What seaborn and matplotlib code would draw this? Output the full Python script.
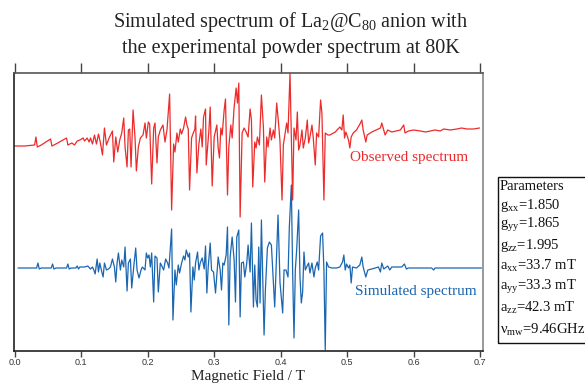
import numpy as np
import pandas as pd
import matplotlib
matplotlib.use("Agg")
import matplotlib.pyplot as plt
import matplotlib.patches as patches
import seaborn as sns

# observed spectrum (field in T, intensity in plot units, stacked above the simulated one)
obs_field = [0.000, 0.015, 0.030, 0.032, 0.034, 0.040, 0.054, 0.056, 0.062, 0.078, 0.080, 0.086, 0.090, 0.094,
             0.098, 0.103, 0.105, 0.109, 0.112, 0.114, 0.117, 0.120, 0.123, 0.126, 0.129, 0.132, 0.135, 0.138,
             0.142, 0.147, 0.149, 0.152, 0.155, 0.158, 0.161, 0.164, 0.166, 0.169, 0.171, 0.173, 0.175, 0.178,
             0.181, 0.183, 0.186, 0.189, 0.193, 0.196, 0.198, 0.201, 0.203, 0.206, 0.209, 0.211, 0.214, 0.216,
             0.219, 0.223, 0.226, 0.229, 0.233, 0.236, 0.239, 0.241, 0.244, 0.246, 0.249, 0.251, 0.254, 0.257,
             0.259, 0.261, 0.263, 0.266, 0.268, 0.271, 0.272, 0.274, 0.277, 0.280, 0.282, 0.284, 0.287, 0.288,
             0.292, 0.294, 0.297, 0.300,
             0.304, 0.306, 0.308, 0.310, 0.312, 0.315, 0.317, 0.320, 0.322, 0.325, 0.327, 0.330, 0.333, 0.335,
             0.337, 0.339, 0.342, 0.345, 0.348, 0.351, 0.354, 0.356, 0.358, 0.361, 0.363, 0.365, 0.368, 0.371,
             0.374, 0.376, 0.379, 0.381, 0.384, 0.386, 0.389, 0.391, 0.394, 0.397, 0.399, 0.402, 0.404, 0.407,
             0.409, 0.411, 0.414, 0.416, 0.418, 0.420, 0.423, 0.425, 0.427, 0.429, 0.432, 0.434, 0.437, 0.440,
             0.442, 0.444, 0.447, 0.449, 0.452, 0.454, 0.457, 0.460, 0.462, 0.465, 0.467, 0.471,
             0.474, 0.482, 0.489, 0.492, 0.494, 0.496, 0.498, 0.502, 0.504, 0.506, 0.509, 0.514, 0.520, 0.522,
             0.524, 0.528, 0.530, 0.537, 0.550, 0.552, 0.555, 0.557, 0.561, 0.567, 0.580, 0.585, 0.587, 0.592,
             0.600, 0.610, 0.618, 0.625, 0.632, 0.640, 0.645, 0.655, 0.665, 0.672, 0.680, 0.690, 0.699]
obs_signal = [1.22, 1.22, 1.23, 1.31, 1.21, 1.23, 1.29, 1.22, 1.24, 1.30, 1.23, 1.25, 1.23, 1.27,
              1.28, 1.30, 1.27, 1.30, 1.26, 1.30, 1.24, 1.33, 1.24, 1.34, 1.25, 1.13, 1.40, 1.23,
              1.30, 1.37, 1.06, 1.31, 1.16, 1.28, 1.35, 1.50, 1.21, 1.01, 1.38, 1.39, 1.01, 1.58,
              1.30, 0.97, 1.21, 1.30, 1.33, 1.45, 1.30, 1.46, 1.44, 0.84, 1.40, 1.45, 1.05, 1.31,
              1.38, 1.43, 1.26, 1.38, 1.74, 0.58, 1.24, 1.16, 1.35, 1.26, 1.39, 1.34, 1.40, 1.51,
              1.43, 1.39, 0.78, 1.30, 1.34, 1.39, 1.52, 0.95, 1.24, 1.39, 1.21, 1.51, 1.59, 1.03,
              1.37, 1.61, 0.82, 1.31,
              1.43, 1.20, 1.10, 1.40, 1.33, 1.58, 1.69, 0.73, 1.21, 1.43, 1.30, 1.61, 1.80, 1.65,
              1.85, 0.51, 1.35, 1.40, 1.36, 1.31, 1.59, 1.48, 0.81, 1.26, 1.20, 1.31, 1.23, 1.73,
              1.41, 0.86, 1.31, 1.21, 1.40, 1.28, 1.38, 1.30, 1.65, 1.43, 1.26, 0.68, 1.23, 1.36,
              1.45, 1.35, 1.95, 1.31, 0.68, 1.40, 1.28, 1.56, 1.18, 1.23, 1.38, 1.20, 1.30, 1.48,
              1.25, 1.31, 1.43, 1.30, 1.03, 1.35, 1.31, 1.68, 1.55, 0.68, 1.35, 1.33,
              1.33, 1.36, 1.41, 1.38, 1.53, 1.30, 1.36, 1.28, 1.20, 1.31, 1.35, 1.38, 1.45, 1.48,
              1.38, 1.26, 1.33, 1.36, 1.40, 1.45, 1.38, 1.33, 1.38, 1.36, 1.38, 1.43, 1.35, 1.37,
              1.38, 1.37, 1.36, 1.37, 1.38, 1.37, 1.39, 1.38, 1.39, 1.40, 1.39, 1.39, 1.40]

# simulated spectrum
sim_field = [0.005, 0.033, 0.035, 0.037, 0.040, 0.055, 0.057, 0.059, 0.062, 0.078, 0.080, 0.082, 0.085, 0.092,
             0.094, 0.096,
             0.098, 0.105, 0.110, 0.114, 0.117, 0.119, 0.121, 0.124, 0.126, 0.128, 0.130, 0.133, 0.135, 0.138,
             0.141, 0.144, 0.147, 0.150, 0.152, 0.154, 0.156, 0.159, 0.161, 0.164, 0.166, 0.169, 0.171, 0.174,
             0.176, 0.179, 0.182, 0.184, 0.187, 0.190, 0.192, 0.196, 0.198, 0.200, 0.202, 0.204, 0.206, 0.209,
             0.211, 0.214, 0.216, 0.219, 0.222, 0.224, 0.227, 0.230, 0.232, 0.236, 0.238, 0.241, 0.243, 0.246,
             0.248, 0.251, 0.254, 0.256, 0.258, 0.261, 0.263, 0.265, 0.268, 0.270, 0.272, 0.275, 0.277, 0.279,
             0.282, 0.285, 0.287, 0.289, 0.291, 0.294, 0.296, 0.299, 0.302,
             0.306, 0.309, 0.311, 0.313, 0.315, 0.318, 0.320, 0.322, 0.324, 0.327, 0.330, 0.332, 0.334, 0.337,
             0.339, 0.341, 0.344, 0.346, 0.349, 0.351, 0.354, 0.356, 0.359, 0.361, 0.363, 0.365, 0.367, 0.369,
             0.371, 0.373, 0.375, 0.377, 0.380, 0.383, 0.386, 0.389, 0.391, 0.394, 0.396, 0.399, 0.403, 0.405,
             0.408, 0.411, 0.413, 0.416, 0.418, 0.420, 0.422, 0.424, 0.427, 0.429, 0.431, 0.433, 0.435, 0.437,
             0.439, 0.442, 0.444, 0.447, 0.450, 0.452, 0.455, 0.457, 0.460, 0.463, 0.465, 0.467, 0.469, 0.472,
             0.477, 0.484, 0.489, 0.493, 0.495, 0.497, 0.499, 0.502, 0.504, 0.506, 0.508, 0.514, 0.519, 0.522,
             0.524, 0.528, 0.531, 0.537, 0.547, 0.550, 0.552, 0.555, 0.557, 0.561, 0.564, 0.567, 0.582, 0.586,
             0.589, 0.592, 0.627, 0.630, 0.632, 0.702]
sim_signal = [0.00, 0.00, 0.05, -0.01, 0.00, 0.00, 0.04, -0.01, 0.00, 0.00, 0.04, -0.01, 0.00, 0.00,
              0.02, -0.01,
              0.01, 0.01, 0.02, -0.01, 0.01, -0.02, -0.06, 0.09, -0.04, 0.05, -0.01, -0.09, 0.05, -0.02,
              -0.01, 0.01, 0.09, 0.01, -0.14, 0.05, 0.15, -0.02, 0.08, 0.01, 0.21, -0.23, 0.05, 0.09,
              -0.20, 0.01, 0.20, -0.02, -0.10, -0.02, 0.01, -0.02, 0.15, 0.10, 0.13, 0.01, 0.15, -0.34,
              0.12, 0.10, -0.24, 0.05, 0.01, -0.02, 0.09, 0.05, 0.00, 0.39, -0.52, -0.02, -0.17, 0.03,
              -0.05, 0.05, 0.12, 0.08, 0.18, 0.11, 0.15, -0.44, 0.01, -0.12, 0.05, 0.16, -0.02, 0.05,
              0.10, -0.01, 0.22, -0.25, 0.01, 0.25, -0.02, -0.04, -0.25,
              0.11, -0.02, -0.22, 0.05, 0.03, 0.13, 0.41, -0.57, 0.11, 0.31, 0.08, -0.34, 0.31, 0.38,
              -0.49, 0.05, 0.06, -0.09, 0.05, 0.23, -0.04, 0.45, -0.39, 0.03, -0.32, -0.39, 0.21, -0.35,
              0.48, -0.09, -0.67, -0.22, 0.20, 0.26, 0.23, -0.15, -0.39, 0.15, 0.53, -0.15, -0.45, -0.02,
              -0.02, -0.09, 0.41, 0.83, -0.05, -0.70, -0.02, 0.18, 0.58, -0.09, -0.35, -0.24, 0.16, -0.02,
              0.01, 0.05, -0.05, 0.05, -0.09, 0.00, 0.06, -0.02, 0.32, 0.35, -0.02, -0.82, 0.06, 0.01,
              0.00, 0.00, 0.01, 0.06, 0.13, -0.02, 0.04, 0.00, 0.03, -0.15, 0.01, 0.00, 0.03, 0.11,
              0.01, -0.09, -0.02, -0.01, 0.01, -0.04, 0.05, -0.01, 0.00, 0.02, -0.02, 0.01, 0.01, 0.04,
              -0.01, 0.00, 0.00, -0.02, 0.00, 0.00]

param_lines = ["Parameters", "g$_{xx}$=1.850", "g$_{yy}$=1.865", "g$_{zz}$=1.995",
               "a$_{xx}$=33.7 mT", "a$_{yy}$=33.3 mT", "a$_{zz}$=42.3 mT", "ν$_{mw}$=9.46GHz"]
field_ticks = [0.0, 0.1, 0.2, 0.3, 0.4, 0.5, 0.6, 0.7]

RED = "#ec2b2b"
BLUE = "#1a66b0"

sns.set_theme(style="white")
plt.rcParams['font.family'] = ['Liberation Serif', 'DejaVu Serif']
plt.rcParams['mathtext.fontset'] = 'custom'
plt.rcParams['mathtext.rm'] = 'Liberation Serif'
plt.rcParams['mathtext.default'] = 'regular'

W, H = 585, 383
fig = plt.figure(figsize=(W / 100, H / 100), dpi=100)
ax = fig.add_axes([14 / W, 1 - 351 / H, (483 - 14) / W, (351 - 73) / H])

obs = pd.DataFrame({"field": obs_field, "signal": obs_signal})
sim = pd.DataFrame({"field": sim_field, "signal": sim_signal})
sns.lineplot(data=obs, x="field", y="signal", color=RED, linewidth=0.9, estimator=None, ax=ax)
sns.lineplot(data=sim, x="field", y="signal", color=BLUE, linewidth=0.9, estimator=None, ax=ax)

ax.set_xlim(-0.001, 0.7042)
ax.set_ylim(-0.83, 1.95)
ax.set_xticks(field_ticks)
ax.set_yticks([])
ax.set_ylabel("")
ax.set_xlabel("")
ax.tick_params(axis='x', top=True, bottom=True, direction='out', length=4, width=1,
               color='#444444', labelsize=6.5, labelcolor='#333333', pad=1,
               labelfontfamily='Liberation Sans')
for t in ax.xaxis.get_major_ticks():
    t.tick2line.set_markersize(7)

for side in ['left', 'bottom']:
    ax.spines[side].set_color('#222222')
    ax.spines[side].set_linewidth(1.2)
ax.spines['top'].set_color('#555555')
ax.spines['top'].set_linewidth(1.2)
ax.spines['right'].set_color('#888888')
ax.spines['right'].set_linewidth(1.2)

# axis title sits low, just under the tick labels
fig.text(248 / W, 1 - 379.8 / H, "Magnetic Field / T", ha='center', va='baseline',
         fontsize=11, color='#222222')

ax.text(0.504, 1.10, "Observed spectrum", color=RED, fontsize=11, va='center')
ax.text(0.511, -0.23, "Simulated spectrum", color=BLUE, fontsize=11, va='center')

fig.text(0.497, 1 - 22 / H, "Simulated spectrum of La$_2$@C$_{80}$ anion with",
         ha='center', va='center', fontsize=14.5, color='#222222')
fig.text(0.497, 1 - 48 / H, "the experimental powder spectrum at 80K",
         ha='center', va='center', fontsize=14.5, color='#222222')

# parameters box
box = patches.Rectangle((498 / W, 1 - 343 / H), 0.3, (343 - 177) / H, transform=fig.transFigure,
                        fill=False, edgecolor='#111111', linewidth=1.0)
fig.add_artist(box)
line_y = [187, 205, 225, 245, 266, 287, 308, 330]
for txt, yy in zip(param_lines, line_y):
    fig.text(500 / W, 1 - yy / H, txt, ha='left', va='center', fontsize=10.5, color='#111111')

fig.savefig("out.png", dpi=100)
